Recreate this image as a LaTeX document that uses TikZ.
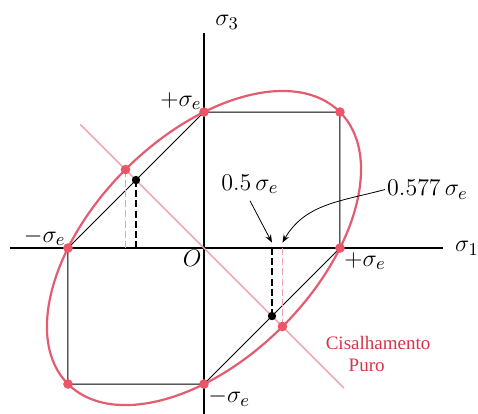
\documentclass[tikz,border=0pt]{standalone}
\usepackage{fontspec}
\setmainfont{Liberation Serif}
\usetikzlibrary{arrows.meta}
\definecolor{ellipsered}{RGB}{228,92,112}
\definecolor{shearpink}{RGB}{240,160,172}
\definecolor{dotred}{RGB}{236,84,104}
\definecolor{textred}{RGB}{214,52,72}
\begin{document}
\begin{tikzpicture}[x=68pt,y=68pt,font=\fontsize{13}{15}\selectfont]
				\useasboundingbox (-1.5,-1.22) rectangle (2.015,1.824);
				% axes
				\coordinate (X0) at (-1.43,0);
				\coordinate (X1) at (1.76,0);
				\coordinate (Y0) at (0,-1.22);
				\coordinate (Y1) at (0,1.58);
				\draw[line width=0.7pt] (X0)--(X1);
				\draw[line width=0.7pt] (Y0)--(Y1);
				\node[anchor=west,inner sep=1pt] (S1) at (1.83,0) {$\sigma_1$};
				\node (S3) at (0.17,1.66) {$\sigma_3$};
				\coordinate[label={[inner sep=1pt]below left:$O$}] (O) at (0,0);
				% hexagon vertices
				\coordinate[label={[inner sep=1pt]above left:$+\sigma_e$}] (Top) at (0,1);
				\coordinate (TopRight) at (1,1);
				\coordinate[label={[inner sep=2pt]below right:$+\sigma_e$}] (Right) at (1,0);
				\coordinate[label={[inner sep=1pt]above left:$-\sigma_e$}] (Left) at (-1,0);
				\coordinate (BotLeft) at (-1,-1);
				\coordinate[label={[inner sep=2pt]below right:$-\sigma_e$}] (Bot) at (0,-1);
				\draw[line width=0.5pt] (Right)--(TopRight)--(Top)--(Left)--(BotLeft)--(Bot)--cycle;
				% von Mises ellipse
				\draw[ellipsered,line width=1.1pt,rotate=45] (O) ellipse (1.4142 and 0.8165);
				% pure shear line
				\coordinate (ShA) at (-0.91,0.91);
				\coordinate (ShB) at (1.03,-1.03);
				\draw[shearpink,line width=0.7pt] (ShA)--(ShB);
				\coordinate (SU) at (-0.577,0.577);
				\coordinate (SD) at (0.577,-0.577);
				\coordinate (HU) at (-0.5,0.5);
				\coordinate (HD) at (0.5,-0.5);
				\coordinate (SUx) at (-0.577,0);
				\coordinate (SDx) at (0.577,0);
				\coordinate (HUx) at (-0.5,0);
				\coordinate (HDx) at (0.5,0);
				\draw[dash pattern=on 3.5pt off 1.6pt,line width=0.55pt] (HU)--(HUx);
				\draw[dash pattern=on 3.5pt off 1.6pt,line width=0.55pt] (HDx)--(HD);
				\draw[dash pattern=on 3.5pt off 1.6pt,line width=0.6pt,shearpink] (SU)--(SUx);
				\draw[dash pattern=on 3.5pt off 1.6pt,line width=0.6pt,shearpink] (SDx)--(SD);
				% callouts
				\node (Half) at (0.338,0.47) {$0.5\,\sigma_e$};
				\node[anchor=west,inner sep=1pt] (Oct) at (1.33,0.43) {$0.577\,\sigma_e$};
				\coordinate (HDtip) at (0.5,0.04);
				\coordinate (SDtip) at (0.577,0.04);
				\draw[-{Stealth[length=4pt,width=3pt]},line width=0.4pt] (Half.south)--(HDtip);
				\draw[-{Stealth[length=4pt,width=3pt]},line width=0.4pt] (Oct.west) to[out=195,in=60] (SDtip);
				\node[textred,font=\fontsize{9.5}{11}\selectfont,align=center] (Shear) at (1.28,-0.78) {Cisalhamento\\Puro\hspace*{1.2em}};
				\foreach \P in {Top,TopRight,Right,Left,BotLeft,Bot,SU,SD} \fill[dotred] (\P) circle (2.4pt);
				\foreach \P in {HU,HD} \fill[black] (\P) circle (2.1pt);
			\end{tikzpicture}
\end{document}
